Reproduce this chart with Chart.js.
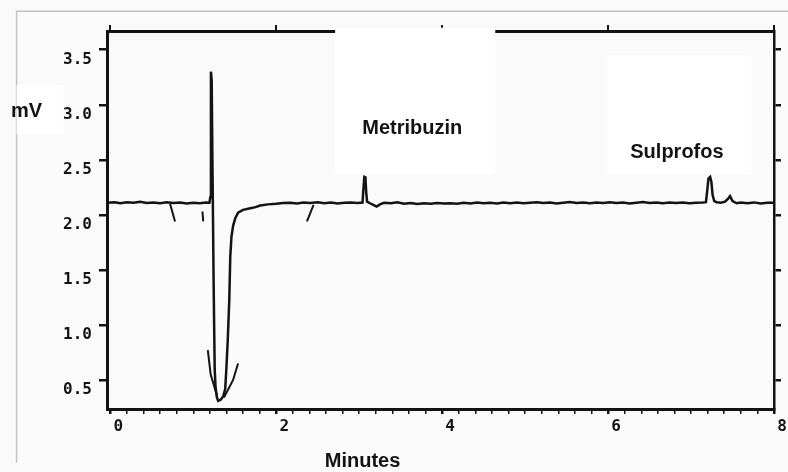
<!DOCTYPE html>
<html><head><meta charset="utf-8">
<script src="https://cdn.jsdelivr.net/npm/chart.js@4.4.1/dist/chart.umd.min.js"></script>
<style>html,body{margin:0;padding:0;background:#fafafa;overflow:hidden}</style>
</head><body>
<canvas id="c" width="788" height="472"></canvas>
<script>
// ---- data ----
const timeMin = [-0.04,0.05,0.12,0.2,0.28,0.36,0.44,0.52,0.6,0.68,0.76,0.84,0.92,1.0,1.08,1.15,1.195,
  1.205,1.213,1.222,1.232,1.245,1.258,1.268,1.285,1.30,1.33,1.36,1.385,1.40,1.415,1.434,1.446,1.46,1.48,1.506,1.54,1.6,1.687,1.75,1.807,1.9,
  2.0,2.08,2.17,2.25,2.33,2.41,2.5,2.58,2.66,2.74,2.82,2.9,2.98,3.04,
  3.052,3.062,3.075,3.085,3.095,3.13,3.17,3.21,3.25,3.3,3.38,3.46,3.54,3.62,3.7,3.78,3.86,3.94,4.02,4.1,4.18,4.26,4.34,4.42,4.5,
  4.58,4.66,4.74,4.82,4.9,4.98,5.06,5.14,5.22,5.3,5.38,5.46,5.54,5.62,5.7,5.78,5.86,5.94,6.02,6.1,6.18,6.26,6.34,6.42,6.5,6.58,6.66,6.74,6.82,6.9,6.98,7.06,7.14,
  7.18,7.195,7.21,7.23,7.245,7.26,7.28,7.31,7.36,7.41,7.45,7.47,7.5,7.55,7.6,7.68,7.76,7.84,7.92,8.0];
const signalMv = [2.110,2.115,2.105,2.115,2.110,2.118,2.108,2.112,2.105,2.114,2.108,2.112,2.104,2.110,2.106,2.112,2.110,
  2.16,3.30,3.22,2.40,1.40,0.60,0.44,0.34,0.31,0.32,0.35,0.42,0.62,0.85,1.23,1.62,1.80,1.90,1.97,2.02,2.045,2.06,2.07,2.085,2.095,
  2.100,2.108,2.110,2.104,2.112,2.108,2.115,2.106,2.112,2.104,2.110,2.113,2.108,2.112,
  2.25,2.345,2.34,2.20,2.12,2.105,2.09,2.075,2.095,2.11,2.105,2.114,2.100,2.108,2.098,2.106,2.100,2.108,2.102,2.106,2.100,2.110,2.104,2.112,2.106,
  2.110,2.104,2.112,2.106,2.113,2.105,2.110,2.115,2.107,2.112,2.104,2.110,2.116,2.108,2.112,2.105,2.111,2.107,2.114,2.108,2.112,2.104,2.110,2.116,2.108,2.112,2.106,2.113,2.108,2.112,2.105,2.110,2.112,
  2.115,2.22,2.33,2.345,2.30,2.18,2.125,2.115,2.11,2.12,2.15,2.17,2.125,2.105,2.112,2.106,2.113,2.104,2.110,2.110];
// pen / integration marks (null separates strokes)
const markTime = [0.72,0.78,null,1.11,1.12,null,2.45,2.37,null,1.175,1.21,1.285,null,1.54,1.48,1.37];
const markMv   = [2.10,1.94,null,2.03,1.94,null,2.09,1.94,null,0.77,0.55,0.36,null,0.65,0.50,0.34];
const xTickLabels = ['0','2','4','6','8'];
const yTickLabels = ['0.5','1.0','1.5','2.0','2.5','3.0','3.5'];
const peakNames = ['Metribuzin','Sulprofos'];
const xTitle = 'Minutes';
const yTitle = 'mV';

const trace = timeMin.map((t,i)=>({x:t,y:signalMv[i]}));
const marks = markTime.map((t,i)=>({x:t===null?0:t,y:markMv[i]}));

const INK = '#131313';
const tickFont = {family:'DejaVu Sans Mono', weight:'bold', size:16};

const decor = {
  id:'decor',
  beforeDraw(chart){
    const {ctx,width,height} = chart;
    ctx.save();
    ctx.fillStyle = '#fafafa';
    ctx.fillRect(0,0,width,height);
    const xs = chart.scales.x, ys = chart.scales.y;
    const fx = xs.getPixelForValue(-1.13), fy = ys.getPixelForValue(3.85);
    ctx.strokeStyle = '#c2c2c2'; ctx.lineWidth = 1.5;
    ctx.beginPath(); ctx.moveTo(fx, ys.getPixelForValue(-0.25)); ctx.lineTo(fx, fy); ctx.lineTo(width, fy); ctx.stroke();
    ctx.restore();
  },
  afterDatasetsDraw(chart, args, o){
    const {ctx} = chart;
    const xs = chart.scales.x, ys = chart.scales.y;
    ctx.save();
    ctx.fillStyle = '#ffffff';
    o.boxes.forEach(b=>{
      const x0 = xs.getPixelForValue(b[0]), x1 = xs.getPixelForValue(b[1]);
      const y0 = ys.getPixelForValue(b[2]), y1 = ys.getPixelForValue(b[3]);
      ctx.fillRect(x0, y0, x1-x0, y1-y0);
    });
    ctx.fillStyle = INK;
    ctx.font = 'bold 20px "Liberation Sans", Arial, sans-serif';
    ctx.textAlign = 'center'; ctx.textBaseline = 'middle';
    o.texts.forEach(tx=>{
      ctx.fillText(tx[0], xs.getPixelForValue(tx[1]), ys.getPixelForValue(tx[2]));
    });
    ctx.restore();
  }
};

new Chart(document.getElementById('c'), {
  type:'line',
  data:{datasets:[
    {label:'Signal', data:trace, borderColor:INK, borderWidth:2.5, pointRadius:0, tension:0, fill:false},
    {label:'Marks', data:marks, borderColor:INK, borderWidth:2, pointRadius:0, tension:0, fill:false, spanGaps:false}
  ]},
  options:{
    responsive:false, animation:false, devicePixelRatio:1,
    layout:{padding:{top:31,right:0,bottom:0,left:0}},
    plugins:{
      legend:{display:false}, tooltip:{enabled:false},
      decor:{
        boxes:[[-1.13,-0.566,3.18,2.73],[2.71,4.64,3.70,2.37],[5.99,7.73,3.45,2.37]],
        texts:[[yTitle,-1.01,2.94],[peakNames[0],3.64,2.78],[peakNames[1],6.83,2.57],[xTitle,3.04,-0.245]]
      }
    },
    scales:{
      x:{type:'linear', position:'bottom', min:-0.04, max:8,
        border:{display:true,color:INK,width:3},
        grid:{display:true, drawOnChartArea:false, drawTicks:true, tickLength:5, color:INK,
          lineWidth:(c)=>{const v=c.tick?c.tick.value:0; return Math.abs(v/2-Math.round(v/2))<1e-6?2.5:1.5;}},
        ticks:{stepSize:0.2, includeBounds:false, autoSkip:false, maxRotation:0, minRotation:0, padding:3, labelOffset:8,
          color:INK, font:tickFont,
          callback:(v)=>{const k=Math.round(v); return (Math.abs(v-k)<1e-6 && k%2===0 && k>=0) ? (xTickLabels[k/2]??'') : '';}},
        afterFit:(s)=>{s.height=63;}
      },
      x2:{type:'linear', position:'top', min:-0.04, max:8,
        border:{display:true,color:INK,width:3},
        grid:{display:true, drawOnChartArea:false, drawTicks:true, tickLength:6, color:INK, lineWidth:2},
        ticks:{stepSize:2, includeBounds:false, callback:()=>''},
        afterFit:(s)=>{s.height=0;}
      },
      y:{type:'linear', position:'left', min:0.236, max:3.67,
        border:{display:true,color:INK,width:3},
        grid:{display:true, drawOnChartArea:false, drawTicks:true, tickLength:8, color:INK, lineWidth:2.5},
        ticks:{stepSize:0.5, includeBounds:false, autoSkip:false, padding:7, labelOffset:10, color:INK, font:tickFont,
          callback:(v)=>{const k=Math.round(v/0.5); return Math.abs(v/0.5-k)<1e-6 ? (yTickLabels[k-1]??'') : '';}},
        afterFit:(s)=>{s.width=107;}
      },
      y2:{type:'linear', position:'right', min:0.236, max:3.67,
        border:{display:true,color:INK,width:2.5},
        grid:{display:true, drawOnChartArea:false, drawTicks:true, tickLength:7, color:INK, lineWidth:2.5},
        ticks:{stepSize:0.5, includeBounds:false, callback:()=>''},
        afterFit:(s)=>{s.width=14;}
      }
    }
  },
  plugins:[decor]
});
</script>
</body></html>
